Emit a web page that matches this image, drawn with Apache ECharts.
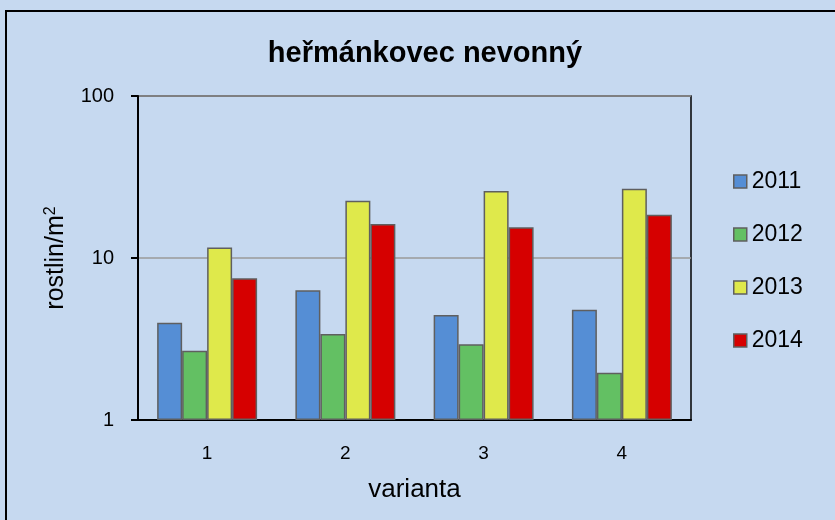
<!DOCTYPE html>
<html>
<head>
<meta charset="utf-8">
<script src="https://cdn.jsdelivr.net/npm/echarts@6/dist/echarts.min.js"></script>
<style>
html,body{margin:0;padding:0;background:#fff;}
#chart{width:835px;height:520px;}
</style>
</head>
<body>
<div id="chart"></div>
<script>
// data
var varianty = ['1', '2', '3', '4'];
var roky = ['2011', '2012', '2013', '2014'];
var v2011 = [3.99, 6.32, 4.45, 4.80];
var v2012 = [2.68, 3.40, 2.93, 1.96];
var v2013 = [11.6, 22.6, 25.9, 26.8];
var v2014 = [7.49, 16.2, 15.5, 18.5];
var barvy = ['#558ed5', '#63c063', '#dfe94b', '#d60000'];

var hodnoty = [v2011, v2012, v2013, v2014];
var series = [];
for (var i = 0; i < roky.length; i++) {
  series.push({
    name: roky[i],
    type: 'bar',
    data: hodnoty[i],
    barGap: '0%',
    barCategoryGap: '27.7%',
    itemStyle: {color: barvy[i], borderColor: '#5f5f5f', borderWidth: 1.5}
  });
}

var font = 'Liberation Sans, Arial, sans-serif';
var myChart = echarts.init(document.getElementById('chart'));
var option = {
  backgroundColor: '#c6d9f0',
  animation: false,
  textStyle: {fontFamily: font, color: '#000'},
  title: {
    text: 'heřmánkovec nevonný',
    left: 420, top: 34, textAlign: 'center',
    textStyle: {fontSize: 29, fontWeight: 'bold', color: '#000', fontFamily: font}
  },
  legend: {
    orient: 'vertical',
    left: 728, top: 165,
    icon: 'rect',
    itemWidth: 13, itemHeight: 13, itemGap: 30,
    textStyle: {fontSize: 23, color: '#000', fontFamily: font},
    itemStyle: {borderColor: '#5f5f5f', borderWidth: 1.5},
    data: roky
  },
  grid: {
    left: 138, top: 96, width: 553, height: 324,
    show: true, borderColor: '#000', borderWidth: 1.5, backgroundColor: 'transparent'
  },
  xAxis: {
    type: 'category',
    data: varianty,
    name: 'varianta',
    nameLocation: 'middle',
    nameGap: 57,
    nameTextStyle: {fontSize: 26, color: '#000', fontFamily: font},
    axisLine: {lineStyle: {color: '#000', width: 2}},
    axisTick: {length: 7, lineStyle: {color: '#000', width: 2}},
    axisLabel: {fontSize: 19, color: '#000', margin: 24}
  },
  yAxis: {
    type: 'log',
    logBase: 10,
    min: 1, max: 100,
    name: '{a|rostlin/m}{s|2}',
    nameLocation: 'middle',
    nameGap: 69,
    nameTextStyle: {
      rich: {
        a: {fontSize: 25, color: '#000', fontFamily: font},
        s: {fontSize: 16, color: '#000', verticalAlign: 'top', padding: [0, 0, 10, 0], fontFamily: font}
      }
    },
    axisLine: {show: true, lineStyle: {color: '#000', width: 2}},
    axisTick: {show: true, length: 7, lineStyle: {color: '#000', width: 2}},
    minorTick: {show: false},
    axisLabel: {fontSize: 20, color: '#000', margin: 24},
    splitLine: {show: true, lineStyle: {color: '#9a9a9a', width: 1.5}}
  },
  graphic: [{
    type: 'rect',
    shape: {x: 6, y: 11, width: 900, height: 600},
    style: {fill: 'none', stroke: '#000', lineWidth: 2},
    z: 100
  }],
  series: series
};
myChart.setOption(option);
</script>
</body>
</html>
